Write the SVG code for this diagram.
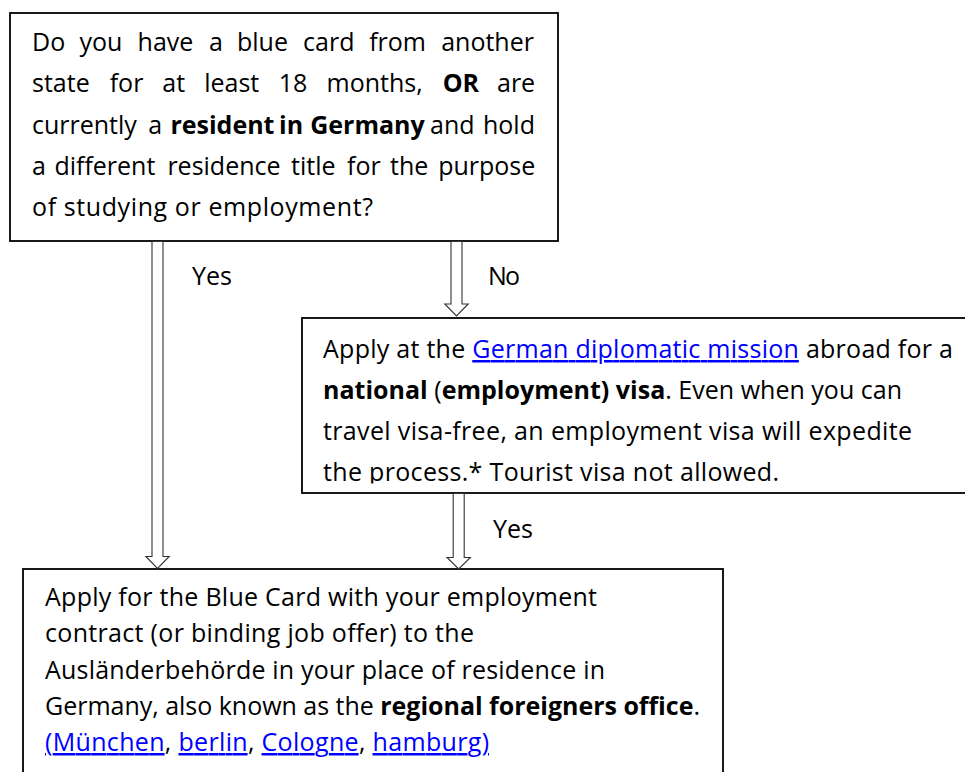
<svg xmlns="http://www.w3.org/2000/svg" width="965" height="772" viewBox="0 0 965 772">
<style>
.box{fill:#fff;stroke:#000;stroke-width:1.8}
.arrow{fill:#fff;stroke:#333;stroke-width:1.1;stroke-linejoin:miter}
text{font-family:"Open Sans","Liberation Sans",sans-serif;font-size:25px;fill:#000}
.b{font-weight:700}
.lnk{fill:#0000ff;text-decoration:underline}
</style>
<defs>
<clipPath id="clipVisa"><rect x="302" y="318" width="700" height="165.5"/></clipPath>
</defs>

<g id="node-question">
<rect class="box" x="10" y="13" width="548" height="228"/>
<text y="51"><tspan x="32">Do</tspan><tspan x="79.5">you</tspan><tspan x="137.6">have</tspan><tspan x="208.9">a</tspan><tspan x="237">blue</tspan><tspan x="303.1">card</tspan><tspan x="369.2">from</tspan><tspan x="441.2">another</tspan></text>
<text y="92"><tspan x="32">state</tspan><tspan x="109.7">for</tspan><tspan x="162.3">at</tspan><tspan x="204.2">least</tspan><tspan x="278.8">18</tspan><tspan x="326.5">months,</tspan><tspan x="442.7" class="b">OR</tspan><tspan x="497">are</tspan></text>
<text y="134"><tspan x="32">currently</tspan><tspan x="148.2">a</tspan><tspan x="170.4" class="b">resident</tspan><tspan x="279.1" class="b">in</tspan><tspan x="310.2" class="b">Germany</tspan><tspan x="430">and</tspan><tspan x="483">hold</tspan></text>
<text y="175"><tspan x="32">a</tspan><tspan x="54.4">different</tspan><tspan x="167.4">residence</tspan><tspan x="291.1">title</tspan><tspan x="347.1">for</tspan><tspan x="390.1">the</tspan><tspan x="438.2">purpose</tspan></text>
<text x="32" y="216" textLength="341" lengthAdjust="spacing">of studying or employment?</text>
</g>

<g id="node-visa">
<rect class="box" x="302" y="318" width="700" height="175"/>
<g clip-path="url(#clipVisa)">
<text x="323" y="358" textLength="630" lengthAdjust="spacing">Apply at the <tspan class="lnk">German diplomatic mission</tspan> abroad for a</text>
<text x="323" y="399" textLength="579" lengthAdjust="spacing"><tspan class="b">national</tspan> (<tspan class="b">employment) visa</tspan>. Even when you can</text>
<text x="323" y="440" textLength="589" lengthAdjust="spacing">travel visa-free, an employment visa will expedite</text>
<text x="323" y="481" textLength="456" lengthAdjust="spacing">the process.* Tourist visa not allowed.</text>
</g>
</g>

<g id="node-apply">
<rect class="box" x="23" y="569" width="700" height="260"/>
<text x="45" y="606" textLength="552" lengthAdjust="spacing">Apply for the Blue Card with your employment</text>
<text x="45" y="642" textLength="429" lengthAdjust="spacing">contract (or binding job offer) to the</text>
<text x="45" y="679" textLength="560" lengthAdjust="spacing">Ausländerbehörde in your place of residence in</text>
<text x="45" y="715" textLength="655" lengthAdjust="spacing">Germany, also known as the <tspan class="b">regional foreigners office</tspan>.</text>
<text x="45" y="751" textLength="444" lengthAdjust="spacing"><tspan class="lnk">(München</tspan>, <tspan class="lnk">berlin</tspan>, <tspan class="lnk">Cologne</tspan>, <tspan class="lnk">hamburg)</tspan></text>
</g>

<g id="connectors">
<path class="arrow" d="M152,241.5 V556.5 H145.8 L157.5,568.5 L169.2,556.5 H163 V241.5 Z"/>
<path class="arrow" d="M451,241.5 V304 H444.8 L456.5,316 L468.2,304 H462 V241.5 Z"/>
<path class="arrow" d="M453.2,493.5 V557.5 H447 L458.7,569 L470.4,557.5 H464.2 V493.5 Z"/>
<text x="192" y="285" textLength="40" lengthAdjust="spacing">Yes</text>
<text x="488" y="285" textLength="32" lengthAdjust="spacing">No</text>
<text x="493" y="538" textLength="40" lengthAdjust="spacing">Yes</text>
</g>
</svg>
